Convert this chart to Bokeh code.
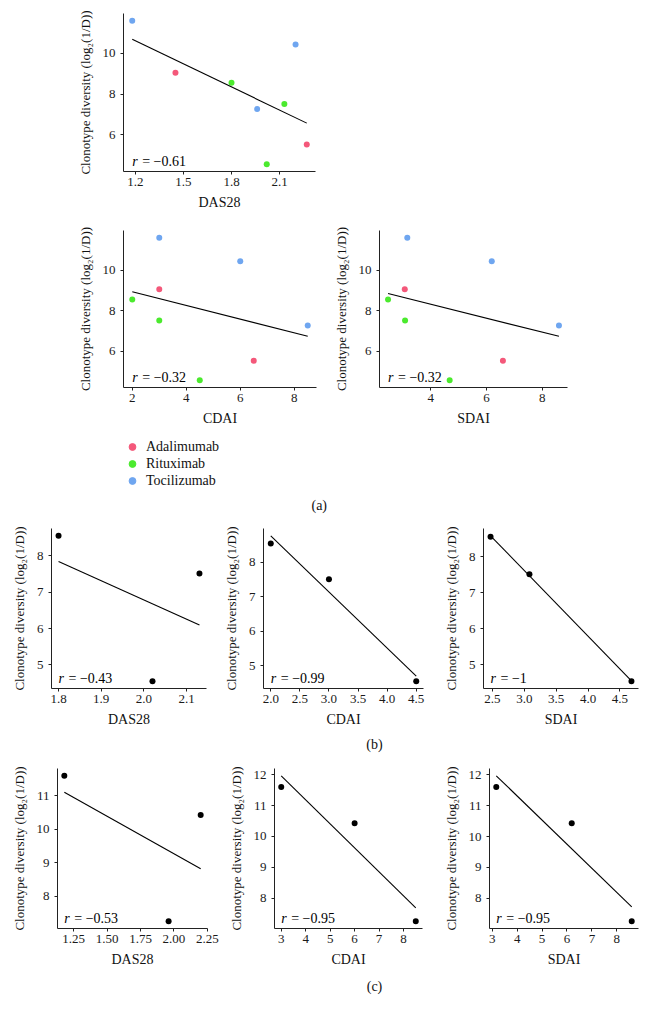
import numpy as np
from bokeh.plotting import figure
from bokeh.models import Range1d, FixedTicker, PrintfTickFormatter, Legend, LegendItem, Spacer
from bokeh.layouts import column, row
from bokeh.embed import file_html
from bokeh.resources import INLINE
from bokeh.core.properties import value

# ---------------- data ----------------
drugs = ["Adalimumab", "Rituximab", "Tocilizumab"]
drug_colors = ["#F4587A", "#4BEA2E", "#6FA6F0"]

ada_das28 = [1.45, 2.27]
ada_cdai = [3.0, 6.5]
ada_sdai = [3.07, 6.59]
ada_div = [9.05, 5.52]

rit_das28 = [1.80, 2.02, 2.13]
rit_cdai = [2.0, 4.5, 3.0]
rit_sdai = [2.47, 4.68, 3.08]
rit_div = [8.55, 4.55, 7.51]

toc_das28 = [1.18, 2.20, 1.96]
toc_cdai = [3.0, 6.0, 8.5]
toc_sdai = [3.16, 6.19, 8.6]
toc_div = [11.6, 10.43, 7.26]

r_a = ["\u22120.61", "\u22120.32", "\u22120.32"]
r_b = ["\u22120.43", "\u22120.99", "\u22121"]
r_c = ["\u22120.53", "\u22120.95", "\u22120.95"]

ticks_a_das28 = [1.2, 1.5, 1.8, 2.1]
ticks_a_cdai = [2, 4, 6, 8]
ticks_a_sdai = [4, 6, 8]
ticks_a_y = [6, 8, 10]
ticks_b_das28 = [1.8, 1.9, 2.0, 2.1]
ticks_b_cdai = [2.0, 2.5, 3.0, 3.5, 4.0, 4.5]
ticks_b_sdai = [2.5, 3.0, 3.5, 4.0, 4.5]
ticks_b1_y = [5, 6, 7, 8]
ticks_b2_y = [5, 6, 7, 8, 9]
ticks_b3_y = [5, 6, 7, 8]
ticks_c_das28 = [1.25, 1.5, 1.75, 2.0, 2.25]
ticks_c_cdai = [3, 4, 5, 6, 7, 8]
ticks_c_sdai = [3, 4, 5, 6, 7, 8]
ticks_c1_y = [8, 9, 10, 11]
ticks_c_y = [8, 9, 10, 11, 12]

FONT = "Liberation Serif"
YLABEL = "Clonotype diversity (log\u2082(1/D))"
TICK_FS = "13px"
XTITLE_FS = "14px"
YTITLE_FS = "13px"
TEXT_FS = "14px"


def style_axes(p):
    for ax in (p.xaxis[0], p.yaxis[0]):
        ax.axis_line_color = "#222222"
        ax.axis_line_width = 1
        ax.major_tick_line_color = "#222222"
        ax.minor_tick_line_color = None
        ax.major_tick_out = 3
        ax.major_tick_in = 0
        ax.major_label_text_font = FONT
        ax.major_label_text_font_size = TICK_FS
        ax.major_label_text_color = "#1a1a1a"
        ax.axis_label_text_font = FONT
        ax.axis_label_text_font_style = "normal"
        ax.axis_label_text_color = "#111111"
    p.xaxis[0].axis_label_text_font_size = XTITLE_FS
    p.yaxis[0].axis_label_text_font_size = YTITLE_FS
    p.xaxis[0].major_label_standoff = 3
    p.xaxis[0].axis_label_standoff = 6
    p.yaxis[0].major_label_standoff = 5
    p.yaxis[0].axis_label_standoff = 7
    p.xgrid.visible = False
    p.ygrid.visible = False
    p.outline_line_color = None


def make_panel(groups, colors, xlabel, xticks, xfmt, yticks, r_value,
               bl, bt, fw, fh, br, bb):
    xs_all = np.concatenate([np.asarray(g[0], float) for g in groups])
    ys_all = np.concatenate([np.asarray(g[1], float) for g in groups])
    slope, intercept = np.polyfit(xs_all, ys_all, 1)
    lx = np.array([xs_all.min(), xs_all.max()])
    ly = slope * lx + intercept
    x_lo, x_hi = xs_all.min(), xs_all.max()
    y_lo = min(ys_all.min(), ly.min())
    y_hi = max(ys_all.max(), ly.max())
    xp = 0.05 * (x_hi - x_lo)
    yp = 0.05 * (y_hi - y_lo)
    p = figure(width=bl + fw + br, height=bt + fh + bb,
               x_range=Range1d(x_lo - xp, x_hi + xp),
               y_range=Range1d(y_lo - yp, y_hi + yp),
               output_backend="svg", toolbar_location=None,
               min_border_left=bl, min_border_right=br,
               min_border_top=bt, min_border_bottom=bb)
    for (gx, gy), c in zip(groups, colors):
        p.scatter(x=list(gx), y=list(gy), marker="circle", size=6,
                  fill_color=c, line_color=None)
    p.line(x=lx, y=ly, line_color="black", line_width=1.1)
    p.text(x=[x_lo], y=[ys_all.min()], text=["r"], text_font=value(FONT),
           text_font_style="italic", text_font_size=TEXT_FS,
           text_baseline="middle", y_offset=-3, text_color="black")
    p.text(x=[x_lo], y=[ys_all.min()], text=["= " + r_value], text_font=value(FONT),
           text_font_size=TEXT_FS, text_baseline="middle", x_offset=10, y_offset=-3,
           text_color="black")
    p.xaxis.axis_label = xlabel
    p.yaxis.axis_label = YLABEL
    p.xaxis.ticker = FixedTicker(ticks=xticks)
    p.yaxis.ticker = FixedTicker(ticks=yticks)
    p.xaxis.formatter = PrintfTickFormatter(format=xfmt)
    p.yaxis.formatter = PrintfTickFormatter(format="%d")
    style_axes(p)
    return p


def caption(text, height, page_top, cx):
    page_bottom = page_top + height
    c = figure(width=632, height=height, x_range=Range1d(8, 640),
               y_range=Range1d(page_bottom, page_top),
               x_axis_location=None, y_axis_location=None,
               min_border_left=0, min_border_right=0, min_border_top=0, min_border_bottom=0,
               output_backend="svg", toolbar_location=None)
    c.grid.visible = False
    c.outline_line_color = None
    c.text(x=[cx], y=[page_top + height / 2], text=[text], text_font=value(FONT),
           text_font_size=TEXT_FS, text_align="center", text_baseline="middle",
           text_color="#111111")
    return c


# ---------------- (a) ----------------
A1 = make_panel([(ada_das28, ada_div), (rit_das28, rit_div), (toc_das28, toc_div)],
                drug_colors, "DAS28", ticks_a_das28, "%.1f", ticks_a_y, r_a[0],
                115, 5, 192, 158, 15, 44)
A2 = make_panel([(ada_cdai, ada_div), (rit_cdai, rit_div), (toc_cdai, toc_div)],
                drug_colors, "CDAI", ticks_a_cdai, "%d", ticks_a_y, r_a[1],
                115, 15, 193, 157, 14, 45)
A3 = make_panel([(ada_sdai, ada_div), (rit_sdai, rit_div), (toc_sdai, toc_div)],
                drug_colors, "SDAI", ticks_a_sdai, "%d", ticks_a_y, r_a[2],
                45, 15, 192, 157, 10, 45)

# legend + (a); page-pixel ranges, the legend renderers hold the real data (off-frame)
leg = figure(width=632, height=88, x_range=Range1d(122, 640), y_range=Range1d(520, 438),
             x_axis_location=None, y_axis_location=None,
             min_border_left=114, min_border_right=0, min_border_top=6, min_border_bottom=0,
             output_backend="svg", toolbar_location=None)
leg.grid.visible = False
leg.outline_line_color = None
items = []
for name, col, xs, ys in zip(drugs, drug_colors,
                             [ada_das28, rit_das28, toc_das28],
                             [ada_div, rit_div, toc_div]):
    rr = leg.scatter(x=xs, y=ys, marker="circle", size=7, fill_color=col, line_color=col)
    items.append(LegendItem(label=name, renderers=[rr]))
legend = Legend(items=items, location="top_left", margin=0, padding=0, spacing=0,
                glyph_width=18, glyph_height=17, label_height=17, label_standoff=5,
                label_text_font=FONT, label_text_font_size=TEXT_FS,
                label_text_color="#111111",
                border_line_color=None, background_fill_alpha=0)
leg.add_layout(legend)
leg.text(x=[324], y=[505], text=["(a)"], text_font=value(FONT), text_font_size=TEXT_FS,
         text_align="center", text_baseline="middle", text_color="#111111")

# ---------------- (b) Rituximab ----------------
B1 = make_panel([(rit_das28, rit_div)], ["black"], "DAS28", ticks_b_das28, "%.1f",
                ticks_b1_y, r_b[0], 38, 8, 160, 160, 9, 45)
B2 = make_panel([(rit_cdai, rit_div)], ["black"], "CDAI", ticks_b_cdai, "%.1f",
                ticks_b2_y, r_b[1], 48, 8, 160, 160, 17, 45)
B3 = make_panel([(rit_sdai, rit_div)], ["black"], "SDAI", ticks_b_sdai, "%.1f",
                ticks_b3_y, r_b[2], 39, 8, 159, 160, 2, 45)
cap_b = caption("(b)", 22, 733, 324)

# ---------------- (c) Tocilizumab ----------------
C1 = make_panel([(toc_das28, toc_div)], ["black"], "DAS28", ticks_c_das28, "%.2f",
                ticks_c1_y, r_c[0], 44, 13, 155, 160, 18, 44)
C2 = make_panel([(toc_cdai, toc_div)], ["black"], "CDAI", ticks_c_cdai, "%d",
                ticks_c_y, r_c[1], 44, 13, 153, 160, 18, 44)
C3 = make_panel([(toc_sdai, toc_div)], ["black"], "SDAI", ticks_c_sdai, "%d",
                ticks_c_y, r_c[2], 46, 13, 152, 160, 2, 44)
cap_c = caption("(c)", 28, 972, 324)

body = column(A1, row(A2, A3), leg, row(B1, B2, B3), cap_b, row(C1, C2, C3), cap_c)
layout = column(Spacer(width=640, height=8), row(Spacer(width=8, height=8), body))

open("out.html", "w").write(file_html(layout, INLINE))
